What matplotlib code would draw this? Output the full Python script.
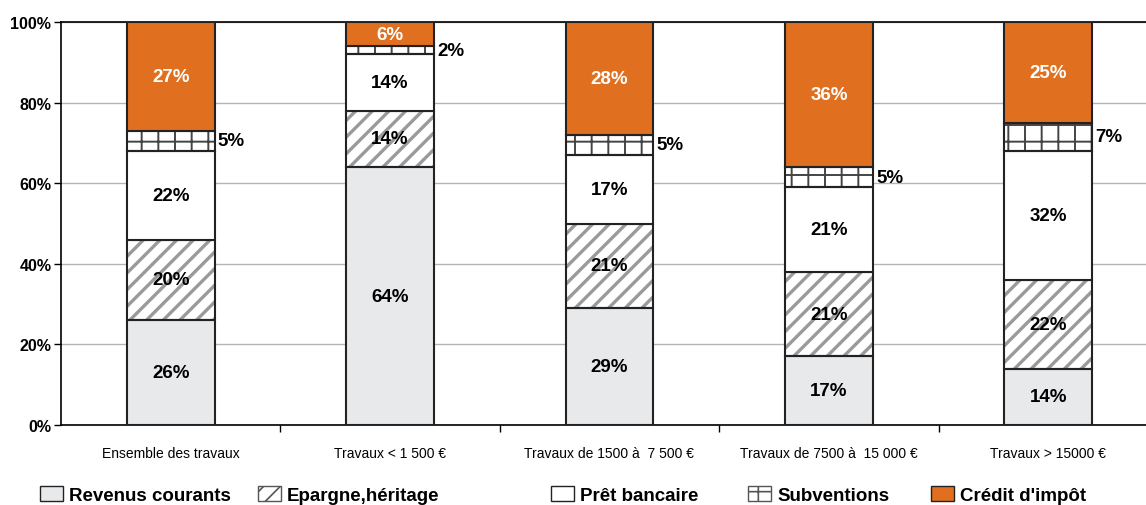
import matplotlib
matplotlib.use("Agg")
import matplotlib.pyplot as plt
from matplotlib.patches import Patch
import numpy as np

plt.rcParams["font.family"] = ["Liberation Sans", "DejaVu Sans"]

CATEGORIES = ["Ensemble des travaux", "Travaux < 1 500 €", "Travaux de 1500 à  7 500 €",
              "Travaux de 7500 à  15 000 €", "Travaux > 15000 €"]
SERIES = ["Revenus courants", "Epargne,héritage", "Prêt bancaire", "Subventions", "Crédit d'impôt"]
REVENUS = [26, 64, 29, 17, 14]
EPARGNE = [20, 14, 21, 21, 22]
PRET = [22, 14, 17, 21, 32]
SUBVENTIONS = [5, 2, 5, 5, 7]
CREDIT = [27, 6, 28, 36, 25]
YTICKS = [0, 20, 40, 60, 80, 100]

# fill, hatch, hatch colour, hatch width, label colour, label outside bar?
STYLES = [
    ("#e8e9eb", None, "#333333", 1.0, "black", False),
    ("white", "//", "#9a9a9a", 2.4, "black", False),
    ("white", None, "#333333", 1.0, "black", False),
    ("white", "+", "#444444", 1.4, "black", True),
    ("#e07020", None, "#333333", 1.0, "white", False),
]

fig = plt.figure(figsize=(11.46, 5.06), dpi=100)
ax = fig.add_axes([61 / 1146, 1 - 426 / 506, 1097 / 1146, 403 / 506])

x = np.arange(len(CATEGORIES))
width = 0.40
bottom = np.zeros(len(CATEGORIES))
values = [REVENUS, EPARGNE, PRET, SUBVENTIONS, CREDIT]
for vals, (fc, hatch, hc, hlw, tc, outside) in zip(values, STYLES):
    vals = np.array(vals, dtype=float)
    if hatch:
        plt.rcParams["hatch.linewidth"] = hlw
        ax.bar(x, vals, width, bottom=bottom, color=fc, edgecolor=hc, hatch=hatch,
               linewidth=0, zorder=2)
        ax.bar(x, vals, width, bottom=bottom, fill=False, edgecolor="#222222",
               linewidth=1.5, zorder=3)
    else:
        ax.bar(x, vals, width, bottom=bottom, color=fc, edgecolor="#222222",
               linewidth=1.5, zorder=3)
    for xi, b, v in zip(x, bottom, vals):
        if outside:
            ax.text(xi + width / 2 + 0.015, b + v / 2, f"{v:.0f}%", ha="left", va="center",
                    fontsize=13.5, fontweight="bold", color=tc, zorder=4)
        else:
            ax.text(xi, b + v / 2, f"{v:.0f}%", ha="center", va="center",
                    fontsize=13.5, fontweight="bold", color=tc, zorder=4)
    bottom += vals

ax.set_xlim(-0.5, len(CATEGORIES) - 0.5)
ax.set_ylim(0, 100)
ax.set_yticks(YTICKS)
ax.set_yticklabels([f"{t}%" for t in YTICKS], fontsize=11.5, fontweight="bold")
ax.set_xticks(x)
ax.set_xticklabels(CATEGORIES, fontsize=10)
ax.tick_params(axis="x", length=0, pad=15)
ax.set_xticks(np.arange(0.5, len(CATEGORIES) - 0.5, 1), minor=True)
ax.tick_params(axis="x", which="minor", length=5, width=1, direction="out")
ax.tick_params(axis="y", length=5, width=1, direction="out", pad=2)
ax.yaxis.grid(True, color="#b4b4b4", linewidth=1)
ax.set_axisbelow(True)
for s in ["left", "bottom", "top"]:
    ax.spines[s].set_color("black")
    ax.spines[s].set_linewidth(1.2)
ax.spines["right"].set_visible(False)

# legend, one entry at a time to match the uneven spacing
plt.rcParams["hatch.linewidth"] = 1.2
leg_x = [40, 258, 551, 748, 931]
for name, (fc, hatch, hc, hlw, tc, outside), lx in zip(SERIES, STYLES, leg_x):
    h = Patch(facecolor=fc, edgecolor="#555555" if hatch else "#222222",
              hatch=hatch, linewidth=1, label=name)
    fig.legend(handles=[h], loc="center left", bbox_to_anchor=(lx / 1146, 10 / 506),
               frameon=False, borderpad=0, borderaxespad=0, handlelength=1.2,
               handleheight=0.9, handletextpad=0.35,
               prop={"size": 13.5, "weight": "bold"})

fig.savefig("out.png", dpi=100)
